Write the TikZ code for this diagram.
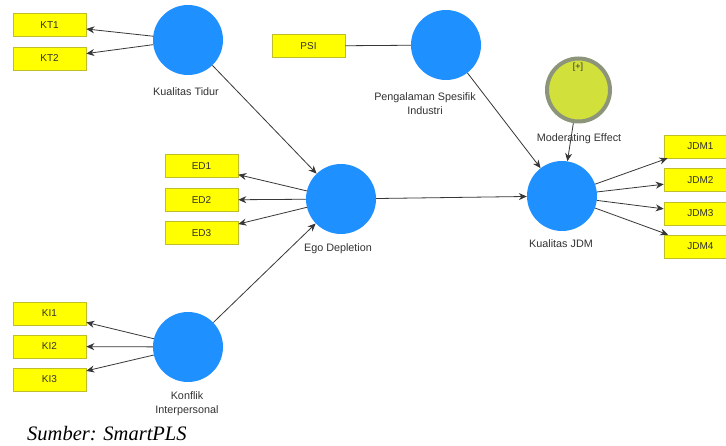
\documentclass[tikz,border=0pt]{standalone}
\usepackage{fontspec}
\setmainfont{Liberation Sans}
\newfontfamily\capfont{Liberation Serif}
\usetikzlibrary{arrows.meta}
\definecolor{lvblue}{RGB}{30,144,255}
\definecolor{indyel}{RGB}{255,255,0}
\definecolor{indborder}{RGB}{190,190,40}
\definecolor{modfill}{RGB}{210,224,60}
\definecolor{modring}{RGB}{140,148,122}
\definecolor{linegray}{RGB}{55,55,55}
\definecolor{txtgray}{RGB}{50,50,50}
\tikzset{
  latent/.style={circle, fill=lvblue, minimum size=70pt, inner sep=0pt},
  modlatent/.style={circle, fill=modfill, draw=modring, line width=4pt, minimum size=63pt, inner sep=0pt},
  indbox/.style={rectangle, fill=indyel, draw=indborder, line width=0.6pt, minimum width=73pt, minimum height=23pt, inner sep=0pt, font=\fontsize{10}{11}\selectfont, text=txtgray},
  lbl/.style={font=\fontsize{10.8}{14}\selectfont, text=txtgray, align=center, inner sep=0pt},
  conn/.style={draw=linegray, line width=0.8pt},
  arr/.style={conn, -{Stealth[length=8pt,width=7pt]}},
}
\begin{document}
\begin{tikzpicture}[x=1pt,y=-1pt]
\clip (0,0) rectangle (726,446);
\fill[white] (0,0) rectangle (726,446);
% latent variables
\node[latent] (kt) at (188,40) {};
\node[latent] (pengal) at (446,45) {};
\node[modlatent] (mod) at (578.5,90) {};
\node[latent] (jdm) at (562,196) {};
\node[latent] (ego) at (341,199) {};
\node[latent] (ki) at (188,347) {};
% labels
\node[lbl] (ktl) at (186,92) {Kualitas Tidur};
\node[lbl] (pengl) at (425,104) {Pengalaman Spesifik\\Industri};
\node[lbl] (modl) at (579,139) {Moderating Effect};
\node[lbl] (jdml) at (561,244) {Kualitas JDM};
\node[lbl] (egol) at (338,249) {Ego Depletion};
\node[lbl] (kil) at (187,404) {Konflik\\Interpersonal};
\node[font=\fontsize{9}{10}\selectfont, text=txtgray, inner sep=0pt] (plus) at (578,67) {[+]};
% indicators
\node[indbox] (KT1) at (49.5,25) {KT1};
\node[indbox] (KT2) at (49.5,58.5) {KT2};
\node[indbox] (PSI) at (308.5,46) {PSI};
\node[indbox] (ED1) at (201.5,166) {ED1};
\node[indbox] (ED2) at (201.5,200) {ED2};
\node[indbox] (ED3) at (201.5,233) {ED3};
\node[indbox] (KI1) at (49.5,313.5) {KI1};
\node[indbox] (KI2) at (49.5,346.5) {KI2};
\node[indbox] (KI3) at (49.5,379.5) {KI3};
\node[indbox] (JDM1) at (700.5,146.5) {JDM1};
\node[indbox] (JDM2) at (700.5,180) {JDM2};
\node[indbox] (JDM3) at (700.5,213.5) {JDM3};
\node[indbox] (JDM4) at (700.5,246.5) {JDM4};
% outer loadings
\draw[arr] (kt) -- (KT1);
\draw[arr] (kt) -- (KT2);
\draw[arr] (ego) -- (ED1);
\draw[arr] (ego) -- (ED2);
\draw[arr] (ego) -- (ED3);
\draw[arr] (ki) -- (KI1);
\draw[arr] (ki) -- (KI2);
\draw[arr] (ki) -- (KI3);
\draw[arr] (jdm) -- (JDM1);
\draw[arr] (jdm) -- (JDM2);
\draw[arr] (jdm) -- (JDM3);
\draw[arr] (jdm) -- (JDM4);
\draw[conn] (PSI) -- (pengal);
% structural paths
\draw[arr] (kt) -- (ego);
\draw[arr] (ki) -- (ego);
\draw[arr] (ego) -- (jdm);
\draw[arr] (pengal) -- (jdm);
\draw[arr] (mod) -- (jdm);
% caption
\node[font=\capfont\itshape\fontsize{20.5}{24}\selectfont, inner sep=0pt, anchor=west] (cap) at (27,434) {Sumber: SmartPLS};
\end{tikzpicture}
\end{document}
